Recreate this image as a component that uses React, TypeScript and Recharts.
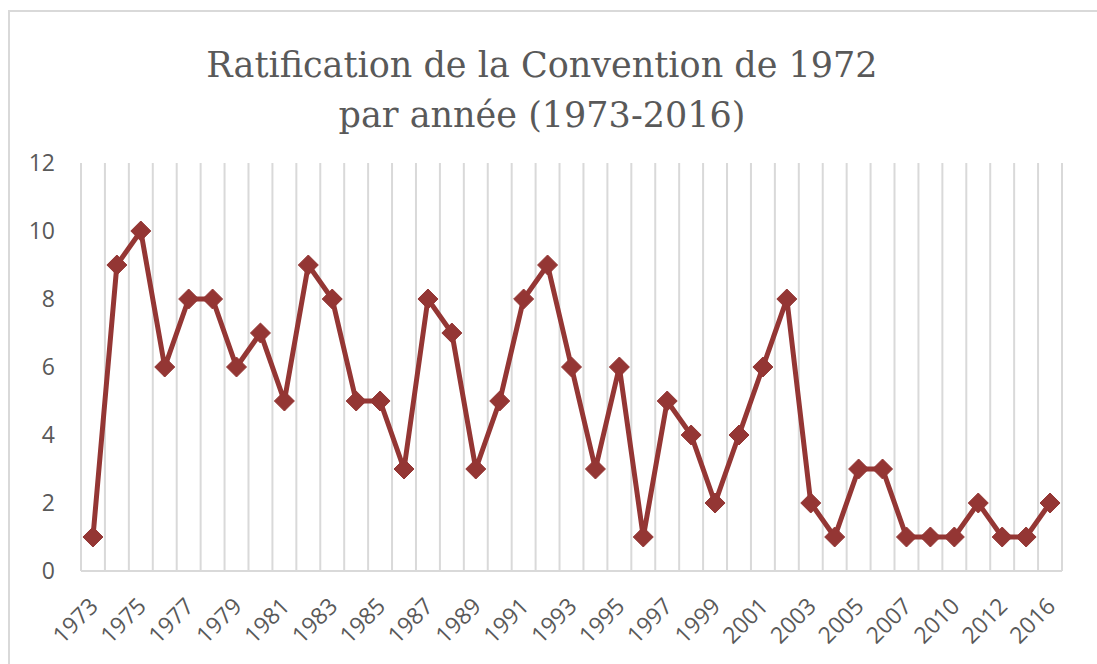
import { CartesianGrid, Line, LineChart, XAxis, YAxis } from "recharts";

const years = [
    "1973", "1974", "1975", "1976", "1977", "1978", "1979", "1980", "1981", "1982",
    "1983", "1984", "1985", "1986", "1987", "1988", "1989", "1990", "1991", "1992",
    "1993", "1994", "1995", "1996", "1997", "1998", "1999", "2000", "2001", "2002",
    "2003", "2004", "2005", "2006", "2007", "2008", "2010", "2011", "2012", "2014",
    "2016",
];

const ratifications = [
    1, 9, 10, 6, 8, 8, 6, 7, 5, 9,
    8, 5, 5, 3, 8, 7, 3, 5, 8, 9,
    6, 3, 6, 1, 5, 4, 2, 4, 6, 8,
    2, 1, 3, 3, 1, 1, 1, 2, 1, 1,
    2,
];

const yTicks = [0, 2, 4, 6, 8, 10, 12];

const titleLines = ["Ratification de la Convention de 1972", "par année (1973-2016)"];

const data = years.map((year, i) => ({ year, value: ratifications[i] }));

const LINE_COLOR = "#943634";
const GRID_COLOR = "#d9d9d9";
const TEXT_COLOR = "#595959";

const CHART_W = 1087;
const CHART_H = 652;
const Y_AXIS_W = 71;
const RIGHT_MARGIN = 35;
const PLOT_W = CHART_W - Y_AXIS_W - RIGHT_MARGIN;
const HALF_BAND = PLOT_W / data.length / 2;

const Diamond = (props: any) => {
    const { cx, cy } = props;
    if (cx == null || cy == null) return null;
    const r = 10;
    return (
        <polygon
            points={`${cx},${cy - r} ${cx + r},${cy} ${cx},${cy + r} ${cx - r},${cy}`}
            fill={LINE_COLOR}
            stroke={LINE_COLOR}
            strokeWidth={1}
        />
    );
};

const YearTick = (props: any) => {
    const { x, y, payload } = props;
    return (
        <g transform={`translate(${x + 1},${y + 31})`}>
            <text
                transform="rotate(-45)"
                textAnchor="end"
                dy="0.35em"
                fill={TEXT_COLOR}
                fontSize={23}
                fontFamily="'Open Sans', sans-serif"
            >
                {payload.value}
            </text>
        </g>
    );
};

// gridlines sit on the category edges, not on the points
const bandEdges = ({ offset }: any) => {
    const n = data.length;
    const step = offset.width / n;
    return Array.from({ length: n + 1 }, (_, i) => offset.left + i * step);
};

export default function App() {
    return (
        <div
            style={{
                position: "fixed",
                left: 8,
                top: 10,
                width: 1089,
                height: 654,
                overflow: "hidden",
                borderTop: `2px solid ${GRID_COLOR}`,
                borderLeft: `2px solid ${GRID_COLOR}`,
                background: "#fff",
            }}
        >
            <svg
                width={CHART_W}
                height={140}
                style={{ position: "absolute", left: 0, top: 0 }}
            >
                {titleLines.map((line, i) => (
                    <text
                        key={line}
                        x={532}
                        y={65 + i * 50}
                        textAnchor="middle"
                        fill={TEXT_COLOR}
                        fontSize={35}
                        fontFamily="'DejaVu Serif', serif"
                    >
                        {line}
                    </text>
                ))}
            </svg>
            <LineChart
                width={CHART_W}
                height={CHART_H}
                data={data}
                margin={{ top: 151, right: RIGHT_MARGIN, left: 0, bottom: 0 }}
            >
                <CartesianGrid
                    horizontal={false}
                    stroke={GRID_COLOR}
                    strokeWidth={2}
                    verticalCoordinatesGenerator={bandEdges}
                />
                <XAxis
                    dataKey="year"
                    height={93}
                    interval={1}
                    padding={{ left: HALF_BAND, right: HALF_BAND }}
                    tickLine={false}
                    tickSize={0}
                    tickMargin={0}
                    axisLine={{ stroke: GRID_COLOR, strokeWidth: 2 }}
                    tick={<YearTick />}
                />
                <YAxis
                    width={Y_AXIS_W}
                    domain={[0, 12]}
                    ticks={yTicks}
                    axisLine={false}
                    tickLine={false}
                    tickSize={0}
                    tickMargin={26}
                    tick={{ fill: TEXT_COLOR, fontSize: 23, fontFamily: "'Open Sans', sans-serif" }}
                />
                <Line
                    type="linear"
                    dataKey="value"
                    stroke={LINE_COLOR}
                    strokeWidth={5}
                    dot={<Diamond />}
                    activeDot={false}
                    isAnimationActive={false}
                />
            </LineChart>
        </div>
    );
}
